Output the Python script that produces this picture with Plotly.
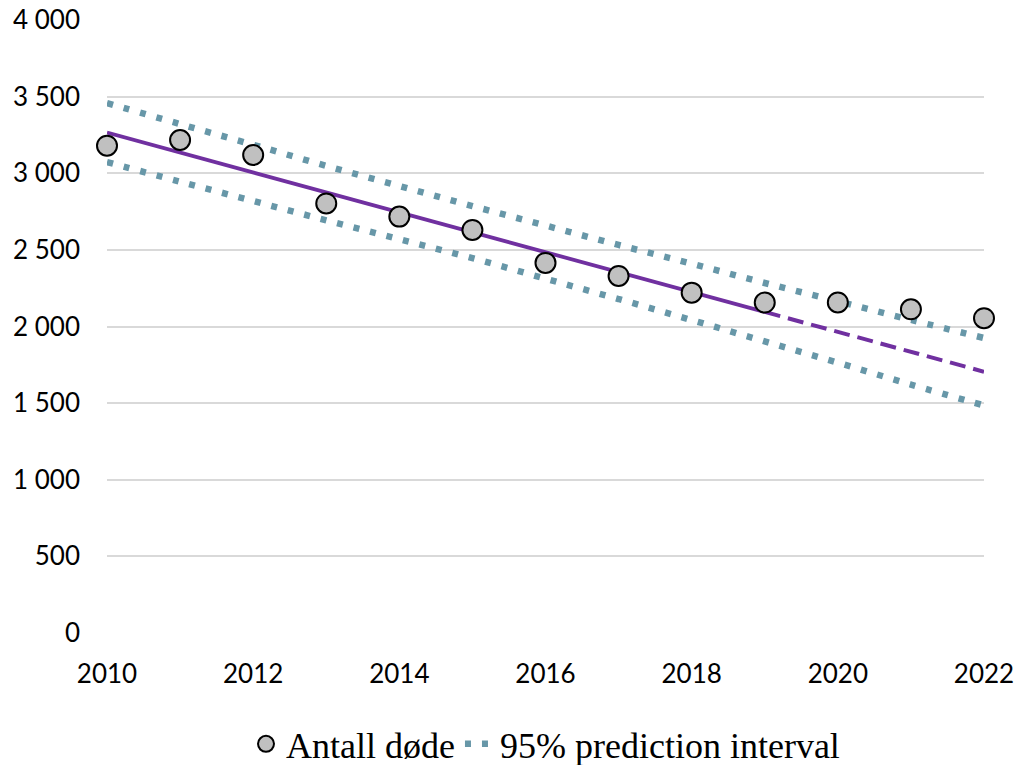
import plotly.graph_objects as go

years = [2010, 2011, 2012, 2013, 2014, 2015, 2016, 2017, 2018, 2019, 2020, 2021, 2022]
deaths = [3180, 3217, 3119, 2803, 2717, 2630, 2415, 2330, 2221, 2156, 2157, 2112, 2054]
pi_upper = [3458, 3321, 3186, 3048, 2917, 2786, 2659, 2532, 2410, 2284, 2165, 2043, 1925]
pi_lower = [3073, 2945, 2819, 2693, 2570, 2446, 2312, 2179, 2042, 1903, 1764, 1621, 1485]
trend_years = [2010, 2019]
trend_vals = [3265, 2095]
forecast_years = [2019, 2022]
forecast_vals = [2095, 1705]

y_tickvals = [0, 500, 1000, 1500, 2000, 2500, 3000, 3500, 4000]
y_ticktext = ["0", "500", "1 000", "1 500", "2 000", "2 500", "3 000", "3 500", "4 000"]
x_tickvals = [2010, 2012, 2014, 2016, 2018, 2020, 2022]
x_ticktext = ["2010", "2012", "2014", "2016", "2018", "2020", "2022"]

PI_COLOR = "#6797a8"
TREND_COLOR = "#7030a0"

fig = go.Figure()

fig.add_trace(go.Scatter(
    x=years, y=pi_upper, mode="lines", name="95% prediction interval",
    line=dict(color=PI_COLOR, width=6.5, dash="6px,11px", shape="spline"),
    legendgroup="pi", showlegend=True, legendrank=2,
))
fig.add_trace(go.Scatter(
    x=years, y=pi_lower, mode="lines", name="95% prediction interval",
    line=dict(color=PI_COLOR, width=6.5, dash="6px,11px", shape="spline"),
    legendgroup="pi", showlegend=False,
))
fig.add_trace(go.Scatter(
    x=trend_years, y=trend_vals, mode="lines", showlegend=False,
    line=dict(color=TREND_COLOR, width=3.8),
))
fig.add_trace(go.Scatter(
    x=forecast_years, y=forecast_vals, mode="lines", showlegend=False,
    line=dict(color=TREND_COLOR, width=4, dash="16px,8px"),
))
fig.add_trace(go.Scatter(
    x=years, y=deaths, mode="markers", name="Antall døde",
    marker=dict(size=20, color="#c0c0c0", line=dict(color="black", width=2)),
    legendrank=1, cliponaxis=False,
))

fig.update_layout(
    width=1014, height=765,
    margin=dict(l=107, r=30, t=20, b=132, autoexpand=False),
    paper_bgcolor="white", plot_bgcolor="white",
    font=dict(family="Lato", size=26, color="black"),
    showlegend=True,
    legend=dict(
        orientation="h", x=0.5, xanchor="center", y=-0.181, yanchor="middle",
        font=dict(family="Liberation Serif", size=36, color="black"),
        itemwidth=30, traceorder="normal",
    ),
    xaxis=dict(
        range=[2010, 2022], tickvals=x_tickvals, ticktext=x_ticktext,
        showgrid=False, zeroline=False, showline=False, ticks="",
        ticklabelstandoff=23, automargin=False, ticklabeloverflow="allow",
    ),
    yaxis=dict(
        range=[0, 4000], tickvals=y_tickvals, ticktext=y_ticktext,
        showgrid=True, gridcolor="#d9d9d9", gridwidth=1.5,
        zeroline=False, showline=False, ticks="",
        ticklabelstandoff=26, automargin=False, ticklabeloverflow="allow",
    ),
)

fig.write_html(
    "out.html",
    config={"displayModeBar": False},
    post_script="document.body.style.margin='0';document.body.style.overflow='hidden';",
)
